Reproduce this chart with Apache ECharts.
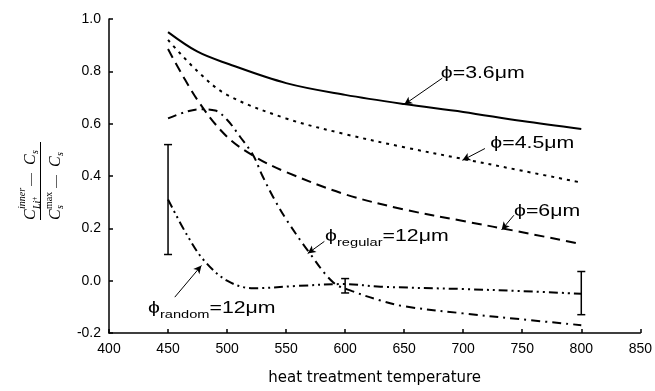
<!DOCTYPE html>
<html>
<head>
<meta charset="utf-8">
<script src="https://cdn.jsdelivr.net/npm/echarts@6/dist/echarts.min.js"></script>
<style>html,body{margin:0;padding:0;background:#fff}#c{width:655px;height:391px}</style>
</head>
<body>
<div id="c"></div>
<script>
// ---- data ----
var xTicks = [400, 450, 500, 550, 600, 650, 700, 750, 800, 850];
var yTicks = [-0.2, 0.0, 0.2, 0.4, 0.6, 0.8, 1.0];

var d36X = [450, 475, 500, 550, 600, 650, 700, 750, 800];
var d36Y = [0.95, 0.875, 0.83, 0.755, 0.71, 0.675, 0.645, 0.61, 0.58];

var d45X = [450, 475, 500, 550, 600, 650, 700, 750, 800];
var d45Y = [0.92, 0.80, 0.71, 0.62, 0.56, 0.51, 0.465, 0.42, 0.375];

var d6X = [450, 475, 500, 525, 550, 600, 650, 700, 750, 800];
var d6Y = [0.885, 0.69, 0.55, 0.47, 0.415, 0.33, 0.272, 0.228, 0.185, 0.14];

var regX = [450, 465, 477, 490, 500, 511, 522, 530, 539, 550, 570, 590, 606, 630, 650, 700, 750, 800];
var regY = [0.62, 0.645, 0.655, 0.65, 0.615, 0.55, 0.48, 0.40, 0.32, 0.235, 0.105, -0.007, -0.04, -0.076, -0.098, -0.125, -0.148, -0.17];

var rndX = [450, 466, 480, 500, 522, 560, 600, 630, 700, 750, 800];
var rndY = [0.31, 0.175, 0.08, 0.0, -0.029, -0.02, -0.013, -0.023, -0.032, -0.04, -0.05];

var errX = [450, 600, 800];
var errLow = [0.10, -0.047, -0.13];
var errHigh = [0.52, 0.008, 0.035];

// annotations: label text (main|subscript|rest), anchor (data coords), arrow tail/head (data coords)
var labels = ['ϕ=3.6μm', 'ϕ=4.5μm', 'ϕ=6μm', 'ϕ|regular|=12μm', 'ϕ|random|=12μm'];
var labelPos = [[681, 0.79], [723, 0.522], [743, 0.265], [583, 0.167], [433, -0.108]];
var arrowFrom = [[682.3, 0.774], [718.4, 0.505], [742.9, 0.25], [582.4, 0.15], [455.7, -0.063]];
var arrowTo = [[650, 0.673], [699.3, 0.46], [732.5, 0.194], [568.3, 0.104], [478.3, 0.058]];

var xName = 'heat treatment temperature';

function zip(a, b) { return a.map(function (v, i) { return [v, b[i]]; }); }

var chart = echarts.init(document.getElementById('c'), null, { renderer: 'canvas' });

function lineSeries(name, xs, ys, type) {
  return {
    name: name, type: 'line', data: zip(xs, ys), smooth: 0.35, showSymbol: false, symbol: 'none',
    lineStyle: { color: '#000', width: 2, type: type, cap: 'butt' }, animation: false, silent: true
  };
}

var arrowData = arrowFrom.map(function (f, i) {
  return [{ coord: f }, { coord: arrowTo[i] }];
});

var series = [
  lineSeries('3.6', d36X, d36Y, 'solid'),
  lineSeries('4.5', d45X, d45Y, [3, 5]),
  lineSeries('6', d6X, d6Y, [10, 6]),
  lineSeries('regular', regX, regY, [9, 5, 2, 5]),
  lineSeries('random', rndX, rndY, [9, 4, 2, 4, 2, 4]),
  {
    type: 'custom', animation: false, silent: true,
    data: errX.map(function (x, i) { return [x, errLow[i], errHigh[i]]; }),
    renderItem: function (params, api) {
      var lo = api.coord([api.value(0), api.value(1)]);
      var hi = api.coord([api.value(0), api.value(2)]);
      var cw = 4;
      var st = { stroke: '#000', lineWidth: 1.5 };
      return {
        type: 'group', children: [
          { type: 'line', shape: { x1: lo[0], y1: lo[1], x2: hi[0], y2: hi[1] }, style: st },
          { type: 'line', shape: { x1: lo[0] - cw, y1: lo[1], x2: lo[0] + cw, y2: lo[1] }, style: st },
          { type: 'line', shape: { x1: hi[0] - cw, y1: hi[1], x2: hi[0] + cw, y2: hi[1] }, style: st }
        ]
      };
    },
    encode: { x: 0, y: [1, 2] }
  },
  {
    type: 'line', data: [], silent: true, animation: false,
    markLine: {
      silent: true, animation: false, symbol: ['none', 'arrow'], symbolSize: [6, 8],
      label: { show: false },
      lineStyle: { color: '#000', width: 1, type: 'solid' },
      data: arrowData
    }
  }
];

function makeAxis(extra) {
  var a = {
    type: 'value',
    axisLine: { show: true, onZero: false, lineStyle: { color: '#000', width: 1.5 } },
    axisTick: { show: true, inside: true, length: 4, lineStyle: { color: '#000', width: 1.5 } },
    splitLine: { show: false },
    axisLabel: { color: '#000', fontFamily: 'Liberation Sans, Arial, sans-serif', fontSize: 14 }
  };
  for (var k in extra) a[k] = extra[k];
  return a;
}

chart.setOption({
  animation: false,
  backgroundColor: '#fff',
  grid: { left: 109, right: 13, top: 19, bottom: 53 },
  xAxis: makeAxis({
    min: xTicks[0], max: xTicks[xTicks.length - 1], interval: 50,
    name: xName, nameLocation: 'middle', nameGap: 38,
    nameTextStyle: { color: '#000', fontFamily: 'DejaVu Sans, sans-serif', fontSize: 15 },
    axisLabel: { color: '#000', fontFamily: 'Liberation Sans, Arial, sans-serif', fontSize: 14, margin: 9 }
  }),
  yAxis: makeAxis({
    min: yTicks[0], max: yTicks[yTicks.length - 1], interval: 0.2,
    axisLabel: {
      color: '#000', fontFamily: 'Liberation Sans, Arial, sans-serif', fontSize: 14, margin: 8,
      formatter: function (v) { return v.toFixed(1); }
    }
  }),
  series: series
});

// annotation texts
var mctx = document.createElement('canvas').getContext('2d');
var mainFont = '16px "Liberation Sans", Arial, sans-serif';
var subFont = '11px "Liberation Sans", Arial, sans-serif';
function tw(t, f) { mctx.font = f; return mctx.measureText(t).width; }
var g = [];
labels.forEach(function (t, i) {
  var p = chart.convertToPixel({ gridIndex: 0 }, labelPos[i]);
  var parts = t.split('|');
  var kids = [];
  var x = 0;
  parts.forEach(function (s, j) {
    var isSub = (parts.length === 3 && j === 1);
    var f = isSub ? subFont : mainFont;
    kids.push({
      type: 'text', x: x, y: isSub ? 6 : 0, silent: true,
      style: { text: s, font: f, fill: '#000', textAlign: 'left', textVerticalAlign: 'middle' }
    });
    x += tw(s, f);
  });
  g.push({ type: 'group', x: p[0], y: p[1], scaleX: 1.33, silent: true, children: kids });
});

// y-axis fraction label
var ser = '"Liberation Serif", "Times New Roman", serif';
function T(txt, x, y, size, italic) {
  return { type: 'text', x: x, y: y, style: { text: txt, font: (italic ? 'italic ' : '') + size + 'px ' + ser, fill: '#000', textAlign: 'left', textVerticalAlign: 'middle' } };
}
g.push({
  type: 'group', x: 40.5, y: 180, rotation: Math.PI / 2, silent: true,
  children: [
    { type: 'line', shape: { x1: -40, y1: 0, x2: 38, y2: 0 }, style: { stroke: '#000', lineWidth: 1 } },
    // numerator
    T('C', -40, -10, 16, true),
    T('inner', -29, -18, 10, true),
    T('Li', -29, -3, 10, true),
    T('+', -21, -6, 8, false),
    T('—', -6, -10, 13, false),
    T('C', 15, -10, 16, true),
    T('s', 26, -5, 10, true),
    // denominator
    T('C', -40, 15, 16, true),
    T('max', -29, 9, 10, false),
    T('s', -29, 20, 10, true),
    T('—', -8, 15, 13, false),
    T('C', 13, 15, 16, true),
    T('s', 24, 20, 10, true)
  ]
});
chart.setOption({ graphic: g });
</script>
</body>
</html>
